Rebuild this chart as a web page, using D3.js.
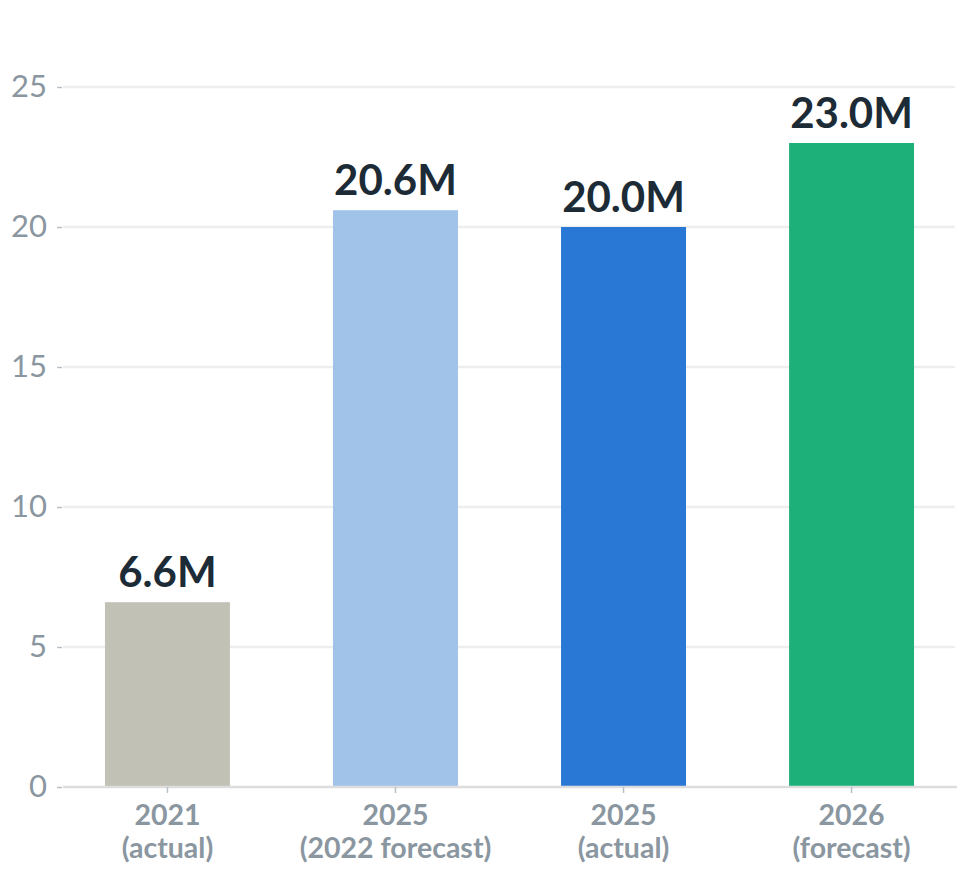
<!DOCTYPE html>
<meta charset="utf-8">
<style>
  body { margin: 0; background: #fff; }
  svg text { font-family: "Source Sans Pro", Lato, "Open Sans", sans-serif; }
</style>
<body>
<script src="https://cdn.jsdelivr.net/npm/d3@7"></script>
<script>

var categories = ["2021|(actual)", "2025|(2022 forecast)", "2025|(actual)", "2026|(forecast)"];
var values = [6.6, 20.6, 20.0, 23.0];
var colors = ["#c1c1b5", "#a1c3ea", "#2a78d6", "#1db078"];
var yTicks = [0, 5, 10, 15, 20, 25];

var W = 969, H = 878;
var margin = { top: 87, right: 13, bottom: 91, left: 63 };

var data = categories.map(function (c, i) {
    return { cat: c, value: values[i], color: colors[i] };
});

var svg = d3.select("body").append("svg")
    .attr("width", W)
    .attr("height", H);

var x = d3.scaleBand()
    .domain(categories)
    .range([margin.left, W - margin.right])
    .paddingInner(0.452)
    .paddingOuter(0.184);

var y = d3.scaleLinear()
    .domain([0, 25])
    .range([H - margin.bottom, margin.top]);

// gridlines
svg.append("g")
    .selectAll("line")
    .data(yTicks.filter(function (d) { return d > 0; }))
  .enter().append("line")
    .attr("x1", margin.left)
    .attr("x2", W - margin.right - 1)
    .attr("y1", function (d) { return y(d); })
    .attr("y2", function (d) { return y(d); })
    .attr("stroke", "#eeeeee")
    .attr("stroke-width", 2.5);

// y axis
var yAxis = svg.append("g")
    .attr("transform", "translate(" + margin.left + ",0)")
    .call(d3.axisLeft(y).tickValues(yTicks).tickSize(5).tickPadding(11));
yAxis.select(".domain").remove();
yAxis.selectAll(".tick line").attr("stroke", "#b8bfc5").attr("stroke-width", 1.5).attr("transform", "translate(-1,0)");
yAxis.selectAll(".tick text")
    .attr("fill", "#8a96a0")
    .style("font-size", "31px")
    .style("font-weight", 400);

// bars
svg.append("g")
    .selectAll("rect")
    .data(data)
  .enter().append("rect")
    .attr("x", function (d) { return x(d.cat); })
    .attr("width", x.bandwidth())
    .attr("y", function (d) { return y(d.value); })
    .attr("height", function (d) { return y(0) - y(d.value); })
    .attr("fill", function (d) { return d.color; });

// x axis
var xAxis = svg.append("g")
    .attr("transform", "translate(0," + y(0) + ")")
    .call(d3.axisBottom(x).tickSize(6).tickSizeOuter(0).tickFormat(""));
xAxis.select(".domain").attr("stroke", "#dddddd").attr("stroke-width", 2.5)
    .attr("d", "M" + margin.left + ",0H" + (W - margin.right + 1));
xAxis.selectAll(".tick line").attr("stroke", "#b8bfc5").attr("stroke-width", 1.5);

var xl = xAxis.selectAll(".tick").append("text")
    .attr("fill", "#8a96a0")
    .attr("text-anchor", "middle")
    .style("font-size", "28.5px")
    .style("font-weight", 700);
xl.append("tspan").attr("x", 0).attr("y", 38).text(function (d) { return d.split("|")[0]; });
xl.append("tspan").attr("x", 0).attr("y", 71).text(function (d) { return d.split("|")[1]; });

// value labels
svg.append("g")
    .selectAll("text")
    .data(data)
  .enter().append("text")
    .attr("x", function (d) { return x(d.cat) + x.bandwidth() / 2; })
    .attr("y", function (d) { return y(d.value) - 15; })
    .attr("text-anchor", "middle")
    .attr("fill", "#1c2b36")
    .style("font-size", "42px")
    .style("font-weight", 700)
    .text(function (d) { return d.value.toFixed(1) + "M"; });

</script>
</body>
